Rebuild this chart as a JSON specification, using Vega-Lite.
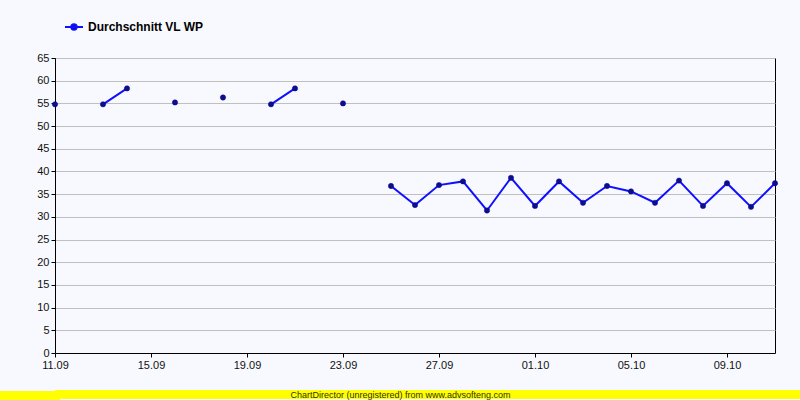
{
  "$schema": "https://vega.github.io/schema/vega-lite/v6.json",
  "background": "#F8F9FE",
  "padding": {"left": -3, "top": 17, "right": 0, "bottom": 0},
  "autosize": {"type": "pad"},
  "columns": 1,
  "align": "none",
  "spacing": 17,
  "config": {
    "font": "Liberation Sans",
    "view": {"stroke": "#000000", "strokeWidth": 1}
  },
  "datasets": {
    "main": [
      {"date": "2023-09-11", "value": 54.8},
      {"date": "2023-09-12", "value": null},
      {"date": "2023-09-13", "value": 54.8},
      {"date": "2023-09-14", "value": 58.3},
      {"date": "2023-09-15", "value": null},
      {"date": "2023-09-16", "value": 55.2},
      {"date": "2023-09-17", "value": null},
      {"date": "2023-09-18", "value": 56.3},
      {"date": "2023-09-19", "value": null},
      {"date": "2023-09-20", "value": 54.8},
      {"date": "2023-09-21", "value": 58.3},
      {"date": "2023-09-22", "value": null},
      {"date": "2023-09-23", "value": 55.0},
      {"date": "2023-09-24", "value": null},
      {"date": "2023-09-25", "value": 36.8},
      {"date": "2023-09-26", "value": 32.6},
      {"date": "2023-09-27", "value": 37.0},
      {"date": "2023-09-28", "value": 37.8},
      {"date": "2023-09-29", "value": 31.4},
      {"date": "2023-09-30", "value": 38.6},
      {"date": "2023-10-01", "value": 32.4},
      {"date": "2023-10-02", "value": 37.8},
      {"date": "2023-10-03", "value": 33.1},
      {"date": "2023-10-04", "value": 36.8},
      {"date": "2023-10-05", "value": 35.6},
      {"date": "2023-10-06", "value": 33.1},
      {"date": "2023-10-07", "value": 38.0},
      {"date": "2023-10-08", "value": 32.4},
      {"date": "2023-10-09", "value": 37.4},
      {"date": "2023-10-10", "value": 32.2},
      {"date": "2023-10-11", "value": 37.4}
    ],
    "footer": [{"label": "ChartDirector (unregistered) from www.advsofteng.com"}]
  },
  "concat": [
    {
      "width": 720,
      "height": 295,
      "data": {"name": "main"},
      "encoding": {
        "x": {
          "field": "date",
          "type": "temporal",
          "scale": {"type": "utc", "domain": [{"year": 2023, "month": 9, "date": 11, "utc": true}, {"year": 2023, "month": 10, "date": 11, "utc": true}]},
          "axis": {
            "title": null,
            "format": "%d.%m",
            "values": [
              {"year": 2023, "month": 9, "date": 11, "utc": true},
              {"year": 2023, "month": 9, "date": 15, "utc": true},
              {"year": 2023, "month": 9, "date": 19, "utc": true},
              {"year": 2023, "month": 9, "date": 23, "utc": true},
              {"year": 2023, "month": 9, "date": 27, "utc": true},
              {"year": 2023, "month": 10, "date": 1, "utc": true},
              {"year": 2023, "month": 10, "date": 5, "utc": true},
              {"year": 2023, "month": 10, "date": 9, "utc": true}
            ],
            "grid": false,
            "domainColor": "#000000",
            "domainWidth": 1,
            "tickColor": "#000000",
            "tickSize": 4,
            "labelFontSize": 11,
            "labelColor": "#111111",
            "labelPadding": 2,
            "labelFlush": false,
            "labelOverlap": false
          }
        },
        "y": {
          "field": "value",
          "type": "quantitative",
          "scale": {"domain": [0, 65], "nice": false},
          "axis": {
            "title": null,
            "values": [0, 5, 10, 15, 20, 25, 30, 35, 40, 45, 50, 55, 60, 65],
            "gridColor": "#C0C0C0",
            "gridWidth": 1,
            "domainColor": "#000000",
            "tickColor": "#000000",
            "tickSize": 4,
            "labelFontSize": 11,
            "labelColor": "#111111",
            "labelPadding": 2,
            "minExtent": 50,
            "maxExtent": 50
          }
        }
      },
      "layer": [
        {
          "mark": {"type": "line", "strokeWidth": 2},
          "encoding": {
            "color": {
              "datum": "Durchschnitt VL WP",
              "type": "nominal",
              "scale": {"range": ["#1010FF"]},
              "legend": {
                "title": null,
                "orient": "none",
                "legendX": 9,
                "legendY": -41,
                "symbolType": "M-1,0L1,0M-0.3,0A0.3,0.3 0 1,0 0.3,0A0.3,0.3 0 1,0 -0.3,0",
                "symbolSize": 324,
                "symbolStrokeWidth": 2,
                "symbolFillColor": "#10107A",
                "symbolStrokeColor": "#1010FF",
                "labelFontSize": 12,
                "labelFontWeight": "bold",
                "labelColor": "#000000",
                "labelOffset": 4
              }
            }
          }
        },
        {
          "mark": {"type": "circle", "size": 28, "color": "#10107A", "opacity": 1, "stroke": "#0000CC", "strokeWidth": 0.5}
        }
      ]
    },
    {
      "width": 745,
      "height": 9,
      "data": {"name": "footer"},
      "view": {"fill": "#FFFF00", "stroke": null},
      "mark": {"type": "text", "fontSize": 9, "color": "#333300", "baseline": "middle", "dx": -27},
      "encoding": {
        "x": {"field": "label", "type": "nominal", "axis": null},
        "y": {
          "field": "label",
          "type": "nominal",
          "axis": {
            "title": null,
            "labels": false,
            "domain": false,
            "grid": false,
            "ticks": true,
            "tickSize": 51,
            "tickWidth": 9,
            "tickCap": "square",
            "tickColor": "#FFFF00",
            "minExtent": 50,
            "maxExtent": 50
          }
        },
        "text": {"field": "label"}
      }
    }
  ]
}
